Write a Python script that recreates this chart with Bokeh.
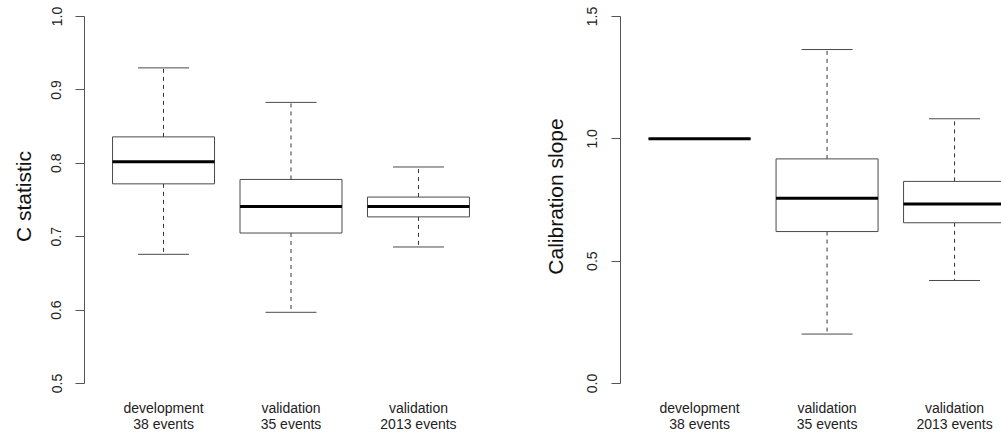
from bokeh.plotting import figure
from bokeh.layouts import row
from bokeh.models import FixedTicker, Range1d, NumeralTickFormatter
from bokeh.embed import file_html
from bokeh.resources import INLINE

# ---- data ----
groups = ["development\n38 events", "validation\n35 events", "validation\n2013 events"]
positions = [1, 2, 3]

c_lower = [0.676, 0.597, 0.686]
c_q1 = [0.772, 0.705, 0.727]
c_median = [0.802, 0.741, 0.741]
c_q3 = [0.836, 0.778, 0.754]
c_upper = [0.930, 0.883, 0.795]

s_lower = [1.0, 0.202, 0.421]
s_q1 = [1.0, 0.621, 0.657]
s_median = [1.0, 0.757, 0.734]
s_q3 = [1.0, 0.918, 0.826]
s_upper = [1.0, 1.365, 1.082]

c_ticks = [0.5, 0.6, 0.7, 0.8, 0.9, 1.0]
s_ticks = [0.0, 0.5, 1.0, 1.5]

FONT = "Liberation Sans"
BOX_W = 0.8
CAP_W = 0.4
OUTLINE = "#4a4a4a"
FRAME_H = 392


def make_panel(lower, q1, med, q3, upper, ticks, ylabel, yr, xr, fw, mbl, mbr,
               label_standoff):
    p = figure(output_backend="svg", toolbar_location=None,
               frame_width=fw, frame_height=FRAME_H,
               min_border_left=mbl, min_border_right=mbr,
               min_border_top=0, min_border_bottom=436 - FRAME_H,
               x_range=Range1d(*xr), y_range=Range1d(*yr),
               background_fill_color="white", border_fill_color="white")
    p.outline_line_color = None
    p.grid.visible = False

    lo = [x - BOX_W / 2 for x in positions]
    hi = [x + BOX_W / 2 for x in positions]
    clo = [x - CAP_W / 2 for x in positions]
    chi = [x + CAP_W / 2 for x in positions]

    # whiskers (dashed)
    p.segment(x0=positions, y0=q3, x1=positions, y1=upper, line_color="#333333",
              line_width=1, line_dash="4 4")
    p.segment(x0=positions, y0=q1, x1=positions, y1=lower, line_color="#333333",
              line_width=1, line_dash="4 4")
    # caps
    p.segment(x0=clo, y0=upper, x1=chi, y1=upper, line_color=OUTLINE, line_width=1)
    p.segment(x0=clo, y0=lower, x1=chi, y1=lower, line_color=OUTLINE, line_width=1)
    # boxes
    p.quad(left=lo, right=hi, bottom=q1, top=q3, fill_color="white",
           line_color=OUTLINE, line_width=1)
    # medians
    p.segment(x0=lo, y0=med, x1=hi, y1=med, line_color="black", line_width=3)

    # y axis
    ya = p.yaxis[0]
    ya.ticker = FixedTicker(ticks=ticks)
    ya.formatter = NumeralTickFormatter(format="0.0")
    ya.bounds = (ticks[0], ticks[-1])
    ya.major_label_orientation = "vertical"
    ya.major_tick_out = 9
    ya.major_tick_in = 0
    ya.minor_tick_line_color = None
    ya.axis_line_color = "#555555"
    ya.axis_line_width = 1
    ya.major_tick_line_color = "#555555"
    ya.major_tick_line_width = 1
    ya.major_label_text_font = FONT
    ya.major_label_text_font_size = "14px"
    ya.major_label_text_color = "#222222"
    ya.major_label_standoff = 14
    ya.axis_label = ylabel
    ya.axis_label_text_font = FONT
    ya.axis_label_text_font_size = "21px"
    ya.axis_label_text_font_style = "normal"
    ya.axis_label_text_color = "#111111"
    ya.axis_label_standoff = label_standoff

    # x axis: labels only
    xa = p.xaxis[0]
    xa.ticker = FixedTicker(ticks=positions)
    xa.major_label_overrides = {pos: g for pos, g in zip(positions, groups)}
    xa.axis_line_color = None
    xa.major_tick_line_color = None
    xa.minor_tick_line_color = None
    xa.major_label_text_font = FONT
    xa.major_label_text_font_size = "14px"
    xa.major_label_text_color = "#222222"
    xa.major_label_text_line_height = 1.0
    xa.major_label_standoff = 1
    return p


c_px = 734.0   # pixels per unit, left
s_px = 244.67  # pixels per unit, right
bottom_pad = FRAME_H - 383
left = make_panel(c_lower, c_q1, c_median, c_q3, c_upper, c_ticks, "C statistic",
                  (0.5 - bottom_pad / c_px, 1.0 + 16 / c_px), (0.38, 3.62), 413, 84, 3, 14)
right = make_panel(s_lower, s_q1, s_median, s_q3, s_upper, s_ticks, "Calibration slope",
                   (0.0 - bottom_pad / s_px, 1.5 + 16 / s_px), (0.38, 0.38 + 381 / 127.5),
                   381, 120, 0, 18)

layout = row(left, right)
open("out.html", "w").write(file_html(layout, INLINE))
